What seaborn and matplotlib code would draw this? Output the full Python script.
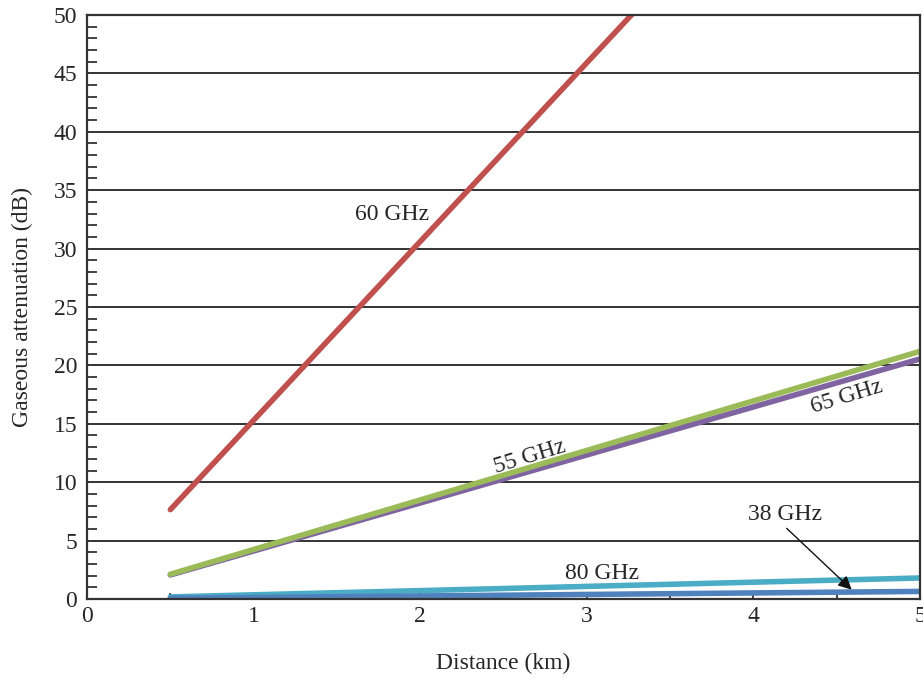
import matplotlib
matplotlib.use("Agg")
import matplotlib.pyplot as plt
import seaborn as sns
import pandas as pd
from matplotlib.ticker import MultipleLocator

# Path length in km
distance_km = [0.5, 1.0, 1.5, 2.0, 2.5, 3.0, 3.5, 4.0, 4.5, 5.0]

# Gaseous attenuation (dB) over the path for each carrier frequency
att_60ghz = [7.65, 15.3, 22.95, 30.6, 38.25, 45.9, 53.55, 61.2, 68.85, 76.5]
att_65ghz = [2.06, 4.11, 6.17, 8.22, 10.28, 12.33, 14.39, 16.44, 18.5, 20.55]
att_55ghz = [2.12, 4.24, 6.36, 8.48, 10.6, 12.72, 14.84, 16.96, 19.08, 21.2]
att_80ghz = [0.18, 0.36, 0.54, 0.72, 0.9, 1.08, 1.26, 1.44, 1.62, 1.8]
att_38ghz = [0.065, 0.13, 0.195, 0.26, 0.325, 0.39, 0.455, 0.52, 0.585, 0.65]

series_names = ["60 GHz", "65 GHz", "55 GHz", "80 GHz", "38 GHz"]
series_values = [att_60ghz, att_65ghz, att_55ghz, att_80ghz, att_38ghz]
series_colors = ["#C0504D", "#8064A2", "#9BBB59", "#4BACC6", "#4F81BD"]

frames = []
for name, vals in zip(series_names, series_values):
    frames.append(pd.DataFrame({"Distance": distance_km, "Attenuation": vals, "Band": name}))
df = pd.concat(frames, ignore_index=True)

sns.set_style("ticks")
plt.rcParams["font.family"] = ["Liberation Serif", "DejaVu Serif"]
plt.rcParams["axes.edgecolor"] = "#333333"

fig = plt.figure(figsize=(9.23, 6.79), dpi=100)
ax = fig.add_axes([0.0943, 0.1178, 0.9024, 0.8602])

sns.lineplot(data=df, x="Distance", y="Attenuation", hue="Band",
             hue_order=series_names, palette=series_colors,
             linewidth=4.0, legend=False, ax=ax, solid_capstyle="round")

ax.set_xlim(0, 5)
ax.set_ylim(0, 50)
ax.xaxis.set_major_locator(MultipleLocator(1))
ax.xaxis.set_minor_locator(MultipleLocator(0.5))
ax.yaxis.set_major_locator(MultipleLocator(5))
ax.yaxis.set_minor_locator(MultipleLocator(1))

ax.grid(axis="y", which="major", color="#333333", linewidth=1.4)
ax.set_axisbelow(True)
for s in ax.spines.values():
    s.set_visible(True)
    s.set_linewidth(1.6)
    s.set_color("#333333")

fs = 17
ax.tick_params(axis="y", which="major", direction="in", length=0, labelsize=fs, pad=7)
ax.tick_params(axis="y", which="minor", direction="in", length=7, width=1.3, color="#333333")
ax.tick_params(axis="x", which="major", direction="in", length=4, width=1.3, labelsize=fs, pad=5, color="#333333")
ax.tick_params(axis="x", which="minor", direction="in", length=4, width=1.3, color="#333333")
ax.tick_params(right=False, top=False)

ax.set_xlabel("Distance (km)", fontsize=fs, labelpad=19)
ax.set_ylabel("Gaseous attenuation (dB)", fontsize=fs, labelpad=15)

label_kw = dict(fontsize=fs, ha="center", va="center")
ax.text(1.83, 32.9, "60 GHz", **label_kw)
ax.text(2.66, 12.2, "55 GHz", rotation=17, **label_kw)
ax.text(4.56, 17.3, "65 GHz", rotation=17, **label_kw)
ax.text(3.09, 2.2, "80 GHz", **label_kw)
ax.text(4.19, 7.2, "38 GHz", **label_kw)
ax.annotate("", xy=(4.59, 0.8), xytext=(4.2, 6.05),
            arrowprops=dict(arrowstyle="-|>", color="#111111", lw=1.0,
                            mutation_scale=20, shrinkA=0, shrinkB=0))

fig.savefig("out.png", dpi=100)
